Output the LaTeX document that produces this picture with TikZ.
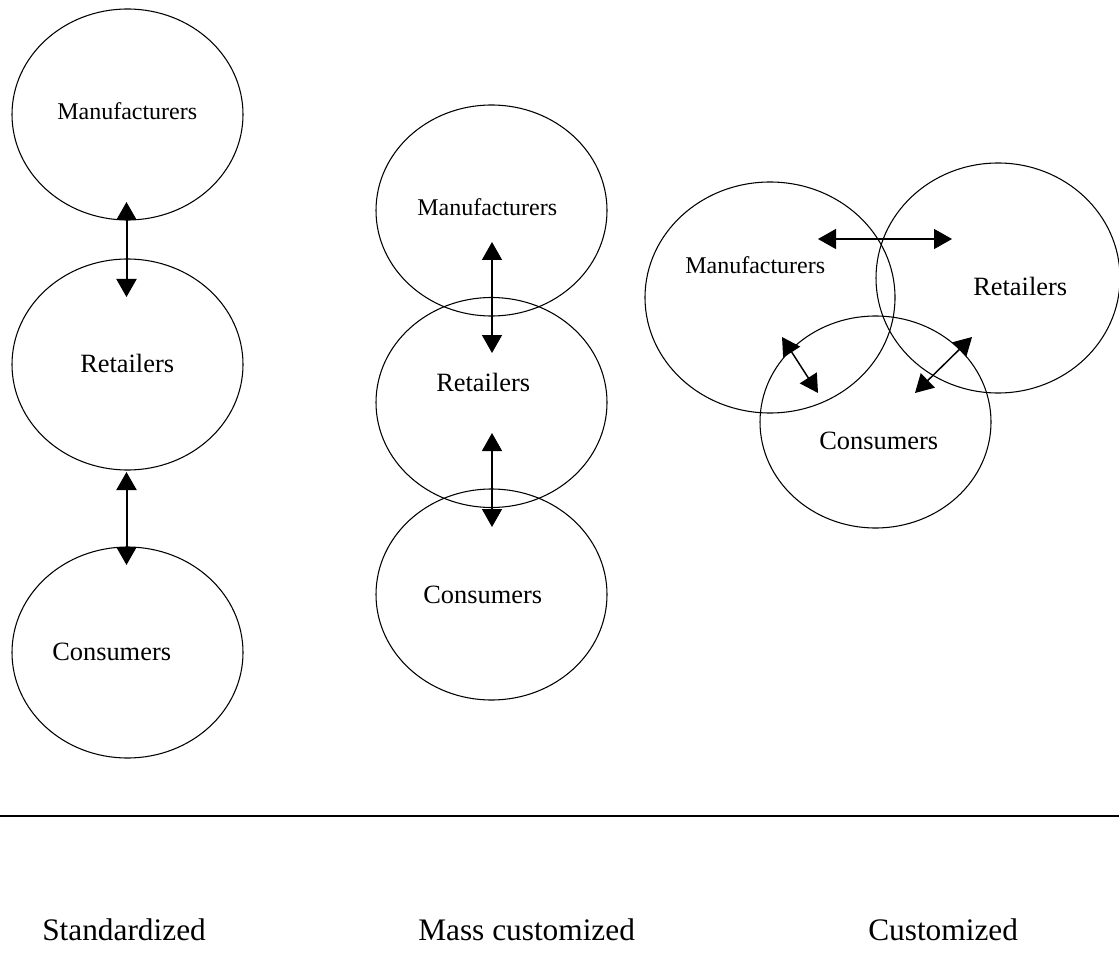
\documentclass[tikz,border=0pt]{standalone}
\usepackage{fontspec}
\setmainfont{Liberation Serif}
\usetikzlibrary{shapes.geometric,arrows.meta}
\begin{document}
\begin{tikzpicture}[x=0.75pt,y=-0.75pt,
  ell/.style n args={2}{draw,ellipse,line width=0.8pt,inner sep=0pt,minimum width=#1*0.75pt,minimum height=#2*0.75pt},
  smalltxt/.style={anchor=base west,inner sep=0pt,font=\fontsize{18}{20}\selectfont},
  midtxt/.style={anchor=base west,inner sep=0pt,font=\fontsize{19.8}{22}\selectfont},
  bigtxt/.style={anchor=base west,inner sep=0pt,font=\fontsize{23.5}{26}\selectfont},
  tip/.style={Triangle[width=15pt,length=13.5pt]},
  arrthick/.style={{Triangle[width=15pt,length=13.5pt]}-{Triangle[width=15pt,length=13.5pt]},line width=1.5pt},
  arrthin/.style={{Triangle[width=15pt,length=13.5pt]}-{Triangle[width=15pt,length=13.5pt]},line width=1.1pt},
]
\useasboundingbox (0,0) rectangle (1119,955);

% ---- left column (standardized)
\node[ell={231}{211}] (LM) at (127.5,114.5) {};
\node[ell={231}{211}] (LR) at (127.5,364.5) {};
\node[ell={231}{211}] (LC) at (127.5,652.5) {};
\node[smalltxt] (tLM) at (57,120) {Manufacturers};
\node[midtxt] (tLR) at (80,372) {Retailers};
\node[midtxt] (tLC) at (52,660) {Consumers};
\coordinate (la1) at (126.5,202);
\coordinate (la2) at (126.5,297);
\coordinate (lb1) at (126.5,472);
\coordinate (lb2) at (126.5,565);
\draw[arrthick] (la1) -- (la2);
\draw[arrthick] (lb1) -- (lb2);

% ---- middle column (mass customized)
\node[ell={231}{211}] (MM) at (491.5,210.5) {};
\node[ell={231}{210}] (MR) at (491.5,402.5) {};
\node[ell={231}{211}] (MC) at (491.5,594.5) {};
\node[smalltxt] (tMM) at (417,216) {Manufacturers};
\node[midtxt] (tMR) at (436,391) {Retailers};
\node[midtxt] (tMC) at (423,603) {Consumers};
\coordinate (ma1) at (492,242);
\coordinate (ma2) at (492,353);
\coordinate (mb1) at (492,433);
\coordinate (mb2) at (492,527);
\draw[arrthin] (ma1) -- (ma2);
\draw[arrthin] (mb1) -- (mb2);

% ---- right cluster (customized)
\node[ell={250}{231}] (RM) at (770,297.5) {};
\node[ell={244}{230}] (RR) at (998,278) {};
\node[ell={231}{212}] (RC) at (875.5,422) {};
\node[smalltxt] (tRM) at (685,273) {Manufacturers};
\node[midtxt] (tRR) at (973,296) {Retailers};
\node[midtxt] (tRC) at (819,449) {Consumers};
\coordinate (ra1) at (818,239);
\coordinate (ra2) at (952,239);
\coordinate (rb1) at (782,337);
\coordinate (rb2) at (818,393);
\coordinate (rc1) at (972,337);
\coordinate (rc2) at (915,393);
\draw[arrthin] (ra1) -- (ra2);
\draw[arrthin] (rb1) -- (rb2);
\draw[arrthin] (rc1) -- (rc2);

% ---- separator and labels
\coordinate (s1) at (0,816);
\coordinate (s2) at (1119,816);
\draw[line width=1.6pt] (s1) -- (s2);
\node[bigtxt] (tStd) at (42,940) {Standardized};
\node[bigtxt] (tMass) at (418,940) {Mass customized};
\node[bigtxt] (tCust) at (868,940) {Customized};
\end{tikzpicture}
\end{document}
